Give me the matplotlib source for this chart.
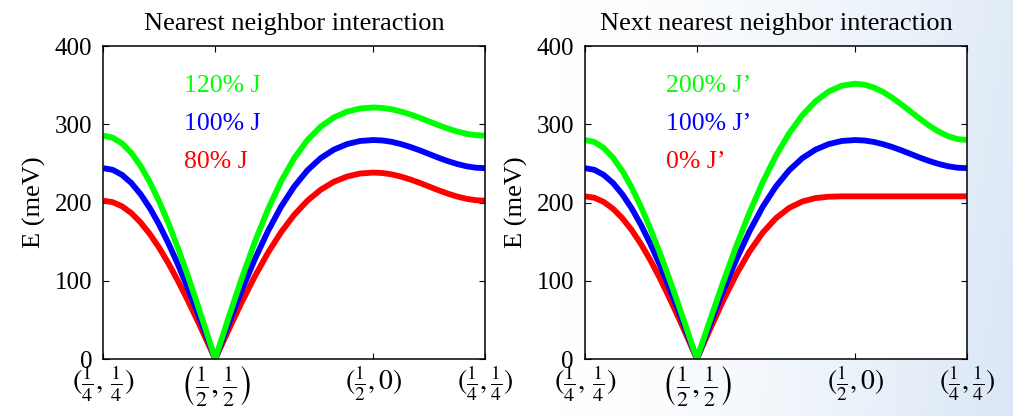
import numpy as np
import matplotlib.pyplot as plt

plt.rcParams['font.family'] = ['Liberation Serif', 'DejaVu Serif']
plt.rcParams['mathtext.fontset'] = 'stix'

# k-path (1/4,1/4) -> (1/2,1/2) -> (1/2,0) -> (1/4,1/4), path length in r.l.u.
kpath_nodes = [0.0, 0.3536, 0.8536, 1.2071]
kpath_labels = [r'$(\frac{1}{4},\,\frac{1}{4})$',
                r'$\left(\frac{1}{2},\frac{1}{2}\right)$',
                r'$(\frac{1}{2},0)$',
                r'$(\frac{1}{4},\frac{1}{4})$']
label_sizes = [21, 23, 20, 20]
n_seg = 12  # samples per segment

# energies in meV along the path (37 samples each)
e_J80 = [202.4, 200.6, 195.3, 186.6, 174.6, 159.6, 142.0, 122.0, 100.0, 76.4, 51.6, 26.0, 0,
         36.7, 72.2, 105.5, 135.8, 162.2, 184.5, 202.5, 216.4, 226.6, 233.3, 237.2, 238.4,
         237.8, 236.0, 233.1, 229.4, 225.1, 220.4, 215.7, 211.4, 207.7, 204.8, 203.0, 202.4]
e_J100 = [244.0, 241.9, 235.5, 225.1, 210.7, 192.8, 171.6, 147.5, 121.0, 92.5, 62.5, 31.5, 0,
          44.4, 87.4, 127.4, 163.5, 194.8, 220.7, 241.3, 256.8, 267.7, 274.8, 278.8, 280.0,
          279.4, 277.6, 274.7, 271.0, 266.7, 262.0, 257.3, 253.0, 249.3, 246.4, 244.6, 244.0]
e_J120 = [285.6, 283.1, 275.7, 263.6, 246.8, 225.9, 201.2, 173.0, 142.0, 108.6, 73.4, 37.0, 0,
          52.1, 102.5, 149.3, 191.2, 227.3, 256.9, 280.0, 297.1, 308.9, 316.3, 320.4, 321.6,
          321.0, 319.2, 316.3, 312.6, 308.3, 303.6, 298.9, 294.6, 290.9, 288.0, 286.2, 285.6]
e_Jp0 = [208.0, 206.2, 200.9, 192.2, 180.1, 165.0, 147.1, 126.6, 104.0, 79.6, 53.8, 27.2, 0,
         38.2, 74.9, 108.4, 137.6, 161.6, 180.1, 193.2, 201.4, 205.8, 207.5, 208.0, 208.0,
         208.0, 208.0, 208.0, 208.0, 208.0, 208.0, 208.0, 208.0, 208.0, 208.0, 208.0, 208.0]
e_Jp100 = e_J100
e_Jp200 = [280.0, 277.5, 269.9, 257.4, 240.5, 219.4, 194.7, 166.9, 136.5, 104.1, 70.2, 35.3, 0,
           49.9, 98.5, 144.8, 187.6, 226.2, 260.0, 288.5, 311.7, 329.5, 342.1, 349.5, 352.0,
           350.8, 347.2, 341.5, 334.0, 325.3, 316.0, 306.7, 298.0, 290.5, 284.8, 281.2, 280.0]

x = np.concatenate([np.linspace(kpath_nodes[i], kpath_nodes[i + 1], n_seg + 1)[(1 if i else 0):]
                    for i in range(3)])

panels = [
    ('Nearest neighbor interaction',
     [(e_J80, '#ff0000', '80% J'), (e_J100, '#0000ff', '100% J'), (e_J120, '#00ff00', '120% J')]),
    ('Next nearest neighbor interaction',
     [(e_Jp0, '#ff0000', '0% J\u2019'), (e_Jp100, '#0000ff', '100% J\u2019'), (e_Jp200, '#00ff00', '200% J\u2019')]),
]

fig = plt.figure(figsize=(10.13, 4.16), dpi=100)

# light blue slide background
bg = fig.add_axes([0, 0, 1, 1], zorder=-10)
gx, gy = np.meshgrid(np.linspace(0, 1, 400), np.linspace(0, 1, 200))
f = np.clip((gx - 0.55) / 0.45, 0, 1) ** 1.4 * (0.8 + 0.2 * gy)
base = np.array([1.0, 1.0, 1.0])
tint = np.array([218, 231, 246]) / 255
img = base * (1 - f[..., None]) + tint * f[..., None]
bg.imshow(img, aspect='auto', extent=[0, 1, 0, 1], origin='upper')
bg.axis('off')

lefts = [0.102, 0.5775]
for (title, curves), left in zip(panels, lefts):
    ax = fig.add_axes([left, 0.137, 0.377, 0.752])
    ax.set_facecolor('white')
    for e, c, lab in curves:
        ax.plot(x, e, color=c, lw=4.2, solid_capstyle='butt')
    ys = [252, 300, 349]
    for (e, c, lab), yy in zip(curves, ys):
        ax.text(0.211, yy, lab, color=c, fontsize=18.5, va='center', ha='left',
                transform=ax.get_yaxis_transform())
    ax.set_xlim(kpath_nodes[0], kpath_nodes[-1])
    ax.set_ylim(0, 400)
    ax.set_yticks([0, 100, 200, 300, 400])
    ax.set_xticks(kpath_nodes)
    ax.set_xticklabels(kpath_labels)
    ax.tick_params(direction='in', length=4, width=0.8, top=True, right=True,
                   labelsize=18, pad=8)
    ax.tick_params(axis='x', pad=3)
    for t, sz in zip(ax.get_xticklabels(), label_sizes):
        t.set_fontsize(sz)
    for s in ax.spines.values():
        s.set_linewidth(1.1)
    ax.set_ylabel('E (meV)', fontsize=19, labelpad=6)
    ax.set_title(title, fontsize=19, pad=12)

fig.savefig('out.png', dpi=100)
